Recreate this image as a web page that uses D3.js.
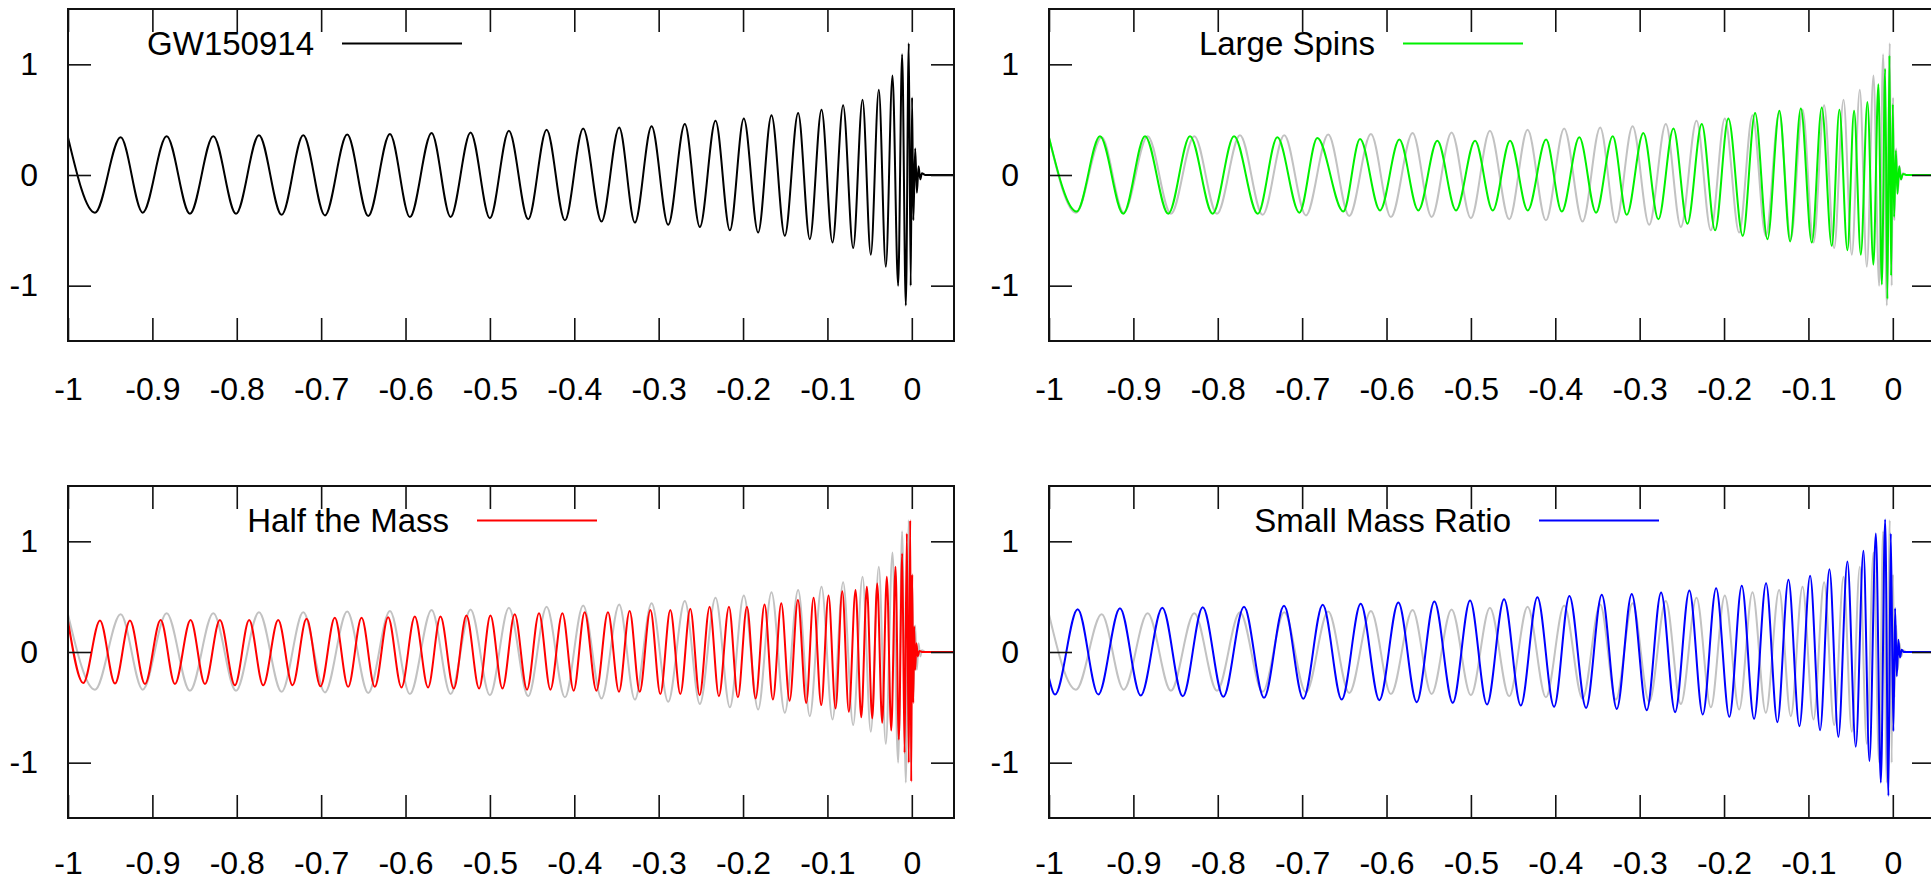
<!DOCTYPE html>
<html>
<head>
<meta charset="utf-8">
<script src="https://cdn.jsdelivr.net/npm/d3@7"></script>
<style>
	body { margin: 0; background: #fff; }
	svg { display: block; }
	text { font-family: "Liberation Sans", Arial, Helvetica, sans-serif; fill: #000; }
</style>
</head>
<body>
<div id="chart"></div>
<script>
// tick values and their labels
var xTicks = [-1, -0.9, -0.8, -0.7, -0.6, -0.5, -0.4, -0.3, -0.2, -0.1, 0];
var xTickLabels = ['-1', '-0.9', '-0.8', '-0.7', '-0.6', '-0.5', '-0.4', '-0.3', '-0.2', '-0.1', '0'];
var yTicks = [-1, 0, 1];
var yTickLabels = ['-1', '0', '1'];

// waveforms as [time, strain] at each turning point
var gw150914 = [
	[-1.000, 0.34], [-0.968, -0.34], [-0.9376, 0.34], [-0.9115, -0.34], [-0.8831, 0.35], [-0.8555, -0.35],
	[-0.8278, 0.35], [-0.8009, -0.35], [-0.7737, 0.36], [-0.7468, -0.36], [-0.7212, 0.36], [-0.6955, -0.365],
	[-0.6691, 0.365], [-0.6442, -0.37], [-0.6185, 0.37], [-0.5948, -0.38], [-0.5691, 0.38], [-0.5466, -0.38],
	[-0.5229, 0.385], [-0.5000, -0.39], [-0.4775, 0.40], [-0.4546, -0.40], [-0.4328, 0.41], [-0.4111, -0.41],
	[-0.3895, 0.42], [-0.3677, -0.42], [-0.3468, 0.43], [-0.3282, -0.43], [-0.3084, 0.44], [-0.2887, -0.45],
	[-0.2690, 0.46], [-0.2512, -0.47], [-0.2326, 0.49], [-0.2156, -0.50], [-0.1991, 0.51], [-0.1821, -0.52],
	[-0.1663, 0.54], [-0.1505, -0.55], [-0.1347, 0.56], [-0.1209, -0.58], [-0.1070, 0.59], [-0.0940, -0.61],
	[-0.0814, 0.63], [-0.0695, -0.66], [-0.0584, 0.68], [-0.0486, -0.72], [-0.0391, 0.77], [-0.0308, -0.83],
	[-0.0229, 0.90], [-0.0162, -1.00], [-0.0115, 1.09], [-0.0071, -1.18], [-0.0036, 1.19], [-0.0013, -1.00],
	[0.0003, 0.70], [0.0018, -0.41], [0.0040, 0.24], [0.0060, -0.16], [0.0080, 0.08], [0.0100, -0.04],
	[0.0120, 0.015], [0.0160, 0], [0.05, 0]
];

var largeSpins = [
	[-1.000, 0.34], [-0.9672, -0.33], [-0.9396, 0.35], [-0.9119, -0.35], [-0.8862, 0.35], [-0.8586, -0.35],
	[-0.8329, 0.35], [-0.8060, -0.35], [-0.7807, 0.35], [-0.7526, -0.35], [-0.7294, 0.34], [-0.7033, -0.34],
	[-0.6820, 0.335], [-0.6512, -0.33], [-0.6314, 0.325], [-0.6077, -0.32], [-0.5848, 0.32], [-0.5623, -0.32],
	[-0.5398, 0.31], [-0.5176, -0.32], [-0.4951, 0.31], [-0.4741, -0.32], [-0.4536, 0.31], [-0.4326, -0.32],
	[-0.4109, 0.32], [-0.3923, -0.33], [-0.3715, 0.34], [-0.3517, -0.34], [-0.3319, 0.35], [-0.3153, -0.36],
	[-0.2956, 0.38], [-0.2778, -0.40], [-0.2600, 0.42], [-0.2434, -0.44], [-0.2264, 0.46], [-0.2106, -0.50],
	[-0.1949, 0.51], [-0.1778, -0.55], [-0.1632, 0.56], [-0.1486, -0.58], [-0.1344, 0.58], [-0.1217, -0.60],
	[-0.1090, 0.60], [-0.0960, -0.61], [-0.0842, 0.61], [-0.0723, -0.64], [-0.0633, 0.59], [-0.0538, -0.68],
	[-0.0459, 0.58], [-0.0379, -0.72], [-0.0301, 0.66], [-0.0230, -0.81], [-0.0171, 0.82], [-0.0130, -0.99],
	[-0.0091, 0.96], [-0.0064, -1.12], [-0.0040, 1.08], [-0.0020, -0.91], [0.0000, 0.64], [0.0015, -0.38],
	[0.0036, 0.22], [0.0055, -0.17], [0.0075, 0.08], [0.0095, -0.04], [0.0120, 0.01], [0.0160, 0], [0.05, 0]
];

var halfMass = [
	[-1.000, 0.28], [-0.9819, -0.28], [-0.9621, 0.285], [-0.9443, -0.285], [-0.9266, 0.285], [-0.9088, -0.29],
	[-0.8902, 0.29], [-0.8733, -0.29], [-0.8547, 0.29], [-0.8377, -0.29], [-0.8200, 0.29], [-0.8022, -0.30],
	[-0.7853, 0.29], [-0.7687, -0.30], [-0.7509, 0.29], [-0.7339, -0.30], [-0.7173, 0.30], [-0.7007, -0.31],
	[-0.6838, 0.31], [-0.6680, -0.315], [-0.6521, 0.31], [-0.6364, -0.315], [-0.6206, 0.315], [-0.6048, -0.32],
	[-0.5890, 0.32], [-0.5733, -0.32], [-0.5586, 0.32], [-0.5428, -0.33], [-0.5278, 0.33], [-0.5128, -0.33],
	[-0.4994, 0.33], [-0.4851, -0.33], [-0.4706, 0.34], [-0.4560, -0.34], [-0.4418, 0.35], [-0.4283, -0.34],
	[-0.4141, 0.35], [-0.4007, -0.35], [-0.3877, 0.36], [-0.3738, -0.35], [-0.3601, 0.36], [-0.3470, -0.36],
	[-0.3344, 0.37], [-0.3225, -0.36], [-0.3098, 0.38], [-0.2980, -0.38], [-0.2862, 0.38], [-0.2743, -0.38],
	[-0.2625, 0.39], [-0.2515, -0.39], [-0.2396, 0.41], [-0.2286, -0.40], [-0.2167, 0.41], [-0.2061, -0.41],
	[-0.1954, 0.41], [-0.1851, -0.42], [-0.1745, 0.43], [-0.1646, -0.43], [-0.1547, 0.44], [-0.1448, -0.44],
	[-0.1350, 0.47], [-0.1251, -0.46], [-0.1164, 0.49], [-0.1073, -0.48], [-0.0987, 0.51], [-0.0904, -0.51],
	[-0.0824, 0.55], [-0.0746, -0.54], [-0.0667, 0.56], [-0.0599, -0.59], [-0.0533, 0.59], [-0.0469, -0.60],
	[-0.0410, 0.62], [-0.0351, -0.64], [-0.0296, 0.68], [-0.0244, -0.71], [-0.0193, 0.77], [-0.0154, -0.79],
	[-0.0114, 0.89], [-0.0086, -0.91], [-0.0059, 1.07], [-0.0036, -1.00], [-0.0019, 1.19], [-0.0007, -1.17],
	[0.0005, 0.70], [0.0017, -0.46], [0.0028, 0.23], [0.0040, -0.16], [0.0055, 0.08], [0.0070, -0.04],
	[0.0090, 0.01], [0.0120, 0], [0.05, 0]
];

var smallMassRatio = [
	[-1.000, -0.234], [-0.9929, -0.384], [-0.9660, 0.387], [-0.9416, -0.384], [-0.9159, 0.396], [-0.8913, -0.393],
	[-0.8657, 0.40], [-0.8415, -0.40], [-0.8178, 0.405], [-0.7934, -0.405], [-0.7689, 0.41], [-0.7452, -0.414],
	[-0.7215, 0.417], [-0.6986, -0.423], [-0.6756, 0.426], [-0.6531, -0.43], [-0.6306, 0.435], [-0.6085, -0.435],
	[-0.5860, 0.447], [-0.5642, -0.453], [-0.5433, 0.456], [-0.5215, -0.459], [-0.5010, 0.465], [-0.4809, -0.474],
	[-0.4607, 0.477], [-0.4409, -0.483], [-0.4212, 0.495], [-0.4014, -0.495], [-0.3833, 0.507], [-0.3635, -0.505],
	[-0.3449, 0.517], [-0.3271, -0.514], [-0.3094, 0.525], [-0.2916, -0.526], [-0.2746, 0.538], [-0.2580, -0.544],
	[-0.2411, 0.556], [-0.2252, -0.565], [-0.2094, 0.577], [-0.1937, -0.586], [-0.1790, 0.598], [-0.1644, -0.604],
	[-0.1502, 0.622], [-0.1368, -0.634], [-0.1237, 0.652], [-0.1107, -0.67], [-0.0980, 0.688], [-0.0862, -0.706],
	[-0.0751, 0.748], [-0.0645, -0.766], [-0.0538, 0.817], [-0.0439, -0.856], [-0.0348, 0.916], [-0.0277, -0.985],
	[-0.0201, 1.07], [-0.0142, -1.18], [-0.0091, 1.198], [-0.0052, -1.30], [-0.0024, 1.07], [0.0007, -0.715],
	[0.0027, 0.396], [0.0047, -0.22], [0.0066, 0.11], [0.0085, -0.05], [0.0105, 0.02], [0.0130, 0], [0.05, 0]
];

var W = 1931, H = 878;
var panelW = 886, panelH = 332;
var tickLen = 23;
var grey = '#c2c2c2';

var panels = [
	{ left: 68,   top: 9,   name: 'GW150914',         data: gw150914,       color: '#000000', ref: false, legendX: 274, labelPad: 36 },
	{ left: 1049, top: 9,   name: 'Large Spins',      data: largeSpins,     color: '#00f000', ref: true,  legendX: 354, labelPad: 36 },
	{ left: 68,   top: 486, name: 'Half the Mass',    data: halfMass,       color: '#ff0000', ref: true,  legendX: 409, labelPad: 33 },
	{ left: 1049, top: 486, name: 'Small Mass Ratio', data: smallMassRatio, color: '#0000ff', ref: true,  legendX: 490, labelPad: 33 }
];

var svg = d3.select('#chart').append('svg')
	.attr('width', W)
	.attr('height', H);

var x = d3.scaleLinear().domain([-1, 0.05]).range([0, panelW]);
var y = d3.scaleLinear().domain([-1.5, 1.5]).range([panelH, 0]);

var line = d3.line()
	.x(d => x(d[0]))
	.y(d => y(d[1]))
	.curve(d3.curveMonotoneX);

svg.append('clipPath').attr('id', 'plotClip')
	.append('rect')
	.attr('width', panelW)
	.attr('height', panelH);

var styleTicks = g => {
	g.select('.domain').remove();
	g.selectAll('.tick line').attr('stroke', '#111').attr('stroke-width', 1.6);
	g.selectAll('.tick text').style('font-size', '32px');
};

panels.forEach(function(p){
	var g = svg.append('g')
		.attr('transform', 'translate(' + p.left + ',' + p.top + ')');

	var plot = g.append('g').attr('clip-path', 'url(#plotClip)');
	if(p.ref){
		plot.append('path')
			.attr('d', line(gw150914))
			.attr('fill', 'none')
			.attr('stroke', grey)
			.attr('stroke-width', 2);
	}
	plot.append('path')
		.attr('d', line(p.data))
		.attr('fill', 'none')
		.attr('stroke', p.color)
		.attr('stroke-width', 2)
		.attr('stroke-linejoin', 'round');

	//axes, ticks point inwards on all four sides
	g.append('g')
		.attr('transform', 'translate(0,' + panelH + ')')
		.call(d3.axisBottom(x).tickValues(xTicks).tickSize(-tickLen).tickPadding(p.labelPad)
			.tickFormat((d, i) => xTickLabels[i]))
		.call(styleTicks);
	g.append('g')
		.call(d3.axisTop(x).tickValues(xTicks).tickSize(-tickLen).tickFormat(''))
		.call(styleTicks);
	g.append('g')
		.call(d3.axisLeft(y).tickValues(yTicks).tickSize(-tickLen).tickPadding(30)
			.tickFormat((d, i) => yTickLabels[i]))
		.call(styleTicks);
	g.append('g')
		.attr('transform', 'translate(' + panelW + ',0)')
		.call(d3.axisRight(y).tickValues(yTicks).tickSize(-tickLen).tickFormat(''))
		.call(styleTicks);

	g.selectAll('.tick text').attr('fill', '#000');

	g.append('rect')
		.attr('width', panelW)
		.attr('height', panelH)
		.attr('fill', 'none')
		.attr('stroke', '#111')
		.attr('stroke-width', 2);

	//legend
	var legend = g.append('g').attr('transform', 'translate(' + p.legendX + ',34.5)');
	legend.append('line')
		.attr('x1', 0)
		.attr('x2', 120)
		.attr('stroke', p.color)
		.attr('stroke-width', 2);
	legend.append('text')
		.attr('x', -28)
		.attr('y', 11.5)
		.attr('text-anchor', 'end')
		.style('font-size', '33px')
		.text(p.name);
});
</script>
</body>
</html>
